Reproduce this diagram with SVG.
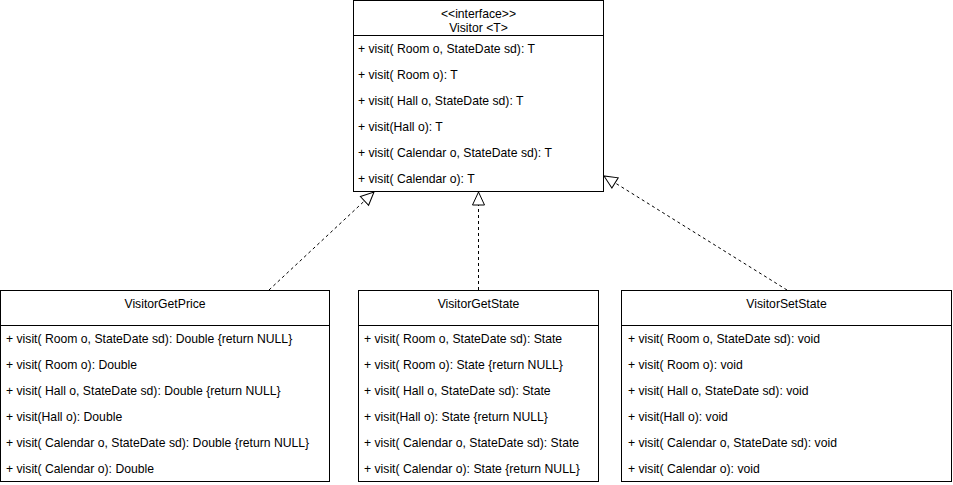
<svg xmlns="http://www.w3.org/2000/svg" width="953" height="485" viewBox="0 0 953 485">
<style>
.box{fill:#fff;stroke:#000;stroke-width:1}
.sep{stroke:#000;stroke-width:1}
text{font-family:"Liberation Sans",Arial,sans-serif;font-size:12.2px;fill:#000}
.c{text-anchor:middle}
.dash{fill:none;stroke:#000;stroke-width:1;stroke-dasharray:3,3}
</style>
<defs>
<marker id="real" markerWidth="16" markerHeight="14" refX="14" refY="7" orient="auto" markerUnits="userSpaceOnUse">
<path d="M1,1 L14,7 L1,13 Z" fill="#fff" stroke="#000" stroke-width="1"/>
</marker>
</defs>
<rect width="953" height="485" fill="#fff"/>
<g id="connectors">
<path class="dash" d="M269,290 L374,192" marker-end="url(#real)"/>
<path class="dash" d="M478.5,290 L478.5,192" marker-end="url(#real)"/>
<path class="dash" d="M787,290 L604,176" marker-end="url(#real)"/>
</g>
<g id="Visitor">
<rect class="box" x="353.5" y="0.5" width="250" height="191"/>
<line class="sep" x1="353.5" y1="35.5" x2="603.5" y2="35.5"/>
<text class="c" x="478.5" y="18">&lt;&lt;interface&gt;&gt;</text>
<text class="c" x="478.5" y="31.5">Visitor &lt;T&gt;</text>
<text x="358" y="52.5">+ visit( Room o, StateDate sd): T</text>
<text x="358" y="78.5">+ visit( Room o): T</text>
<text x="358" y="104.5">+ visit( Hall o, StateDate sd): T</text>
<text x="358" y="130.5">+ visit(Hall o): T</text>
<text x="358" y="156.5">+ visit( Calendar o, StateDate sd): T</text>
<text x="358" y="182.5">+ visit( Calendar o): T</text>
</g>
<g id="VisitorGetPrice">
<rect class="box" x="0.5" y="290.5" width="329" height="191"/>
<line class="sep" x1="0.5" y1="325.5" x2="329.5" y2="325.5"/>
<text class="c" x="165" y="307.5">VisitorGetPrice</text>
<text x="6" y="342.5">+ visit( Room o, StateDate sd): Double {return NULL}</text>
<text x="6" y="368.5">+ visit( Room o): Double</text>
<text x="6" y="394.5">+ visit( Hall o, StateDate sd): Double {return NULL}</text>
<text x="6" y="420.5">+ visit(Hall o): Double</text>
<text x="6" y="446.5">+ visit( Calendar o, StateDate sd): Double {return NULL}</text>
<text x="6" y="472.5">+ visit( Calendar o): Double</text>
</g>
<g id="VisitorGetState">
<rect class="box" x="358.5" y="290.5" width="240" height="191"/>
<line class="sep" x1="358.5" y1="325.5" x2="598.5" y2="325.5"/>
<text class="c" x="478.5" y="307.5">VisitorGetState</text>
<text x="364" y="342.5">+ visit( Room o, StateDate sd): State</text>
<text x="364" y="368.5">+ visit( Room o): State {return NULL}</text>
<text x="364" y="394.5">+ visit( Hall o, StateDate sd): State</text>
<text x="364" y="420.5">+ visit(Hall o): State {return NULL}</text>
<text x="364" y="446.5">+ visit( Calendar o, StateDate sd): State</text>
<text x="364" y="472.5">+ visit( Calendar o): State {return NULL}</text>
</g>
<g id="VisitorSetState">
<rect class="box" x="621.5" y="290.5" width="330" height="191"/>
<line class="sep" x1="621.5" y1="325.5" x2="951.5" y2="325.5"/>
<text class="c" x="786.5" y="307.5">VisitorSetState</text>
<text x="628" y="342.5">+ visit( Room o, StateDate sd): void</text>
<text x="628" y="368.5">+ visit( Room o): void</text>
<text x="628" y="394.5">+ visit( Hall o, StateDate sd): void</text>
<text x="628" y="420.5">+ visit(Hall o): void</text>
<text x="628" y="446.5">+ visit( Calendar o, StateDate sd): void</text>
<text x="628" y="472.5">+ visit( Calendar o): void</text>
</g>
</svg>
